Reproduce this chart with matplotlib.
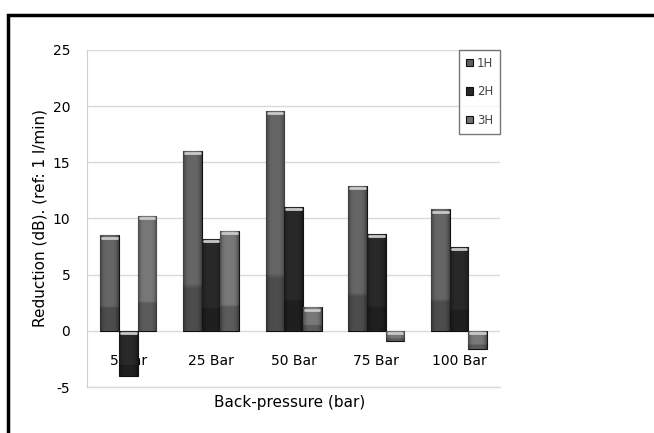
import numpy as np
import matplotlib.pyplot as plt
from matplotlib.patches import Rectangle
from matplotlib.colors import to_rgb

# chart data
categories = ['5 Bar', '25 Bar', '50 Bar', '75 Bar', '100 Bar']
series = ['1H', '2H', '3H']
h1 = [8.5, 16.0, 19.6, 12.9, 10.8]
h2 = [-4.0, 8.2, 11.0, 8.6, 7.5]
h3 = [10.2, 8.9, 2.1, -0.9, -1.6]
yticks = [-5, 0, 5, 10, 15, 20, 25]

colors = ['#5e5e5e', '#262626', '#707070']


def shade(col, n=40, m=16):
    # cylinder-ish shading: darker sides, darker lower part
    base = np.array(to_rgb(col))
    xs = np.linspace(-1, 1, m)
    side = 1.0 - 0.35 * xs ** 4
    ys = np.linspace(1, 0, n)
    vert = np.where(ys > 0.25, 1.08, 0.82)
    img = np.clip(base[None, None, :] * side[None, :, None] * vert[:, None, None], 0, 1)
    return img


fig = plt.figure(figsize=(6.54, 4.33), dpi=100)
ax = fig.add_axes([0.133, 0.106, 0.632, 0.779])

x = np.arange(len(categories))
w = 0.225
for i, (vals, col, name) in enumerate(zip([h1, h2, h3], colors, series)):
    b = ax.bar(x + (i - 1) * w, vals, w, color=col, edgecolor='#111111',
               linewidth=0.8, label=name, zorder=3)
    for patch, v in zip(b, vals):
        x0 = patch.get_x()
        im = ax.imshow(shade(col), extent=(x0, x0 + w, min(0, v), max(0, v)),
                       aspect='auto', zorder=3.5, interpolation='bilinear')
        im.set_clip_path(patch)
        # light rim at the top end of each bar
        ytop = max(0, v)
        ax.plot([x0 + 0.025, x0 + w - 0.025], [ytop - 0.2] * 2,
                color='#c8c8c8', lw=2, solid_capstyle='round', zorder=4)

ax.set_xlim(-0.5, len(categories) - 0.5)
ax.set_ylim(-5, 25)
ax.set_yticks(yticks)
ax.set_yticklabels([str(t) for t in yticks], fontsize=10)
ax.yaxis.grid(True, color='#d9d9d9', lw=1, zorder=0)
ax.axhline(-5, color='#d9d9d9', lw=1, zorder=0, clip_on=False)
ax.set_axisbelow(True)

ax.set_xticks(x)
ax.set_xticklabels(categories, fontsize=10, family='Open Sans', color='#222222')
ax.spines['bottom'].set_position(('data', 0))
ax.spines['bottom'].set_color('none')
ax.spines['top'].set_visible(False)
ax.spines['right'].set_visible(False)
ax.spines['left'].set_color('#cfcfcf')
ax.tick_params(axis='x', length=0, pad=17)
ax.tick_params(axis='y', length=0, pad=12)

ax.set_ylabel('Reduction (dB). (ref: 1 l/min)', fontsize=11)
fig.text(0.443, 0.07, 'Back-pressure (bar)', fontsize=11, ha='center', va='center')

leg = ax.legend(loc='upper right', bbox_to_anchor=(1.0, 1.0), fontsize=8.5,
                frameon=True, fancybox=False, edgecolor='#555555',
                handlelength=0.6, handleheight=0.6, handletextpad=0.35,
                labelspacing=1.3, borderaxespad=0, borderpad=0.6)
leg.get_frame().set_linewidth(1)
for t in leg.get_texts():
    t.set_color('#444444')

# outer frame of the figure
fig.patches.append(Rectangle((0.012, -0.1), 1.1, 1.065, transform=fig.transFigure,
                             fill=False, edgecolor='black', lw=2.5))

fig.savefig('out.png', dpi=100)
